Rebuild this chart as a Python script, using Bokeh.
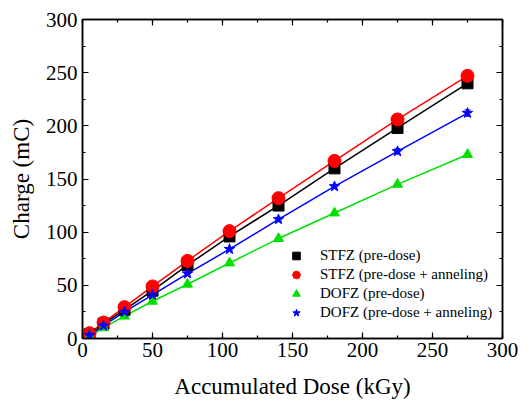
from bokeh.plotting import figure
from bokeh.models import (LinearAxis, SingleIntervalTicker, Legend, LegendItem, Range1d,
                          Whisker, ColumnDataSource, CustomLabelingPolicy)
from bokeh.embed import file_html
from bokeh.resources import INLINE

dose = [5, 15, 30, 50, 75, 105, 140, 180, 225, 275]
stfz = [4, 14, 27, 45, 69, 96, 125, 160, 198, 240]
stfz_ann = [5, 15, 29.5, 49, 73, 101, 132, 167, 206, 247]
dofz = [2, 10, 21, 35, 51, 71, 94, 118, 145, 173]
dofz_ann = [3, 12, 25, 41, 61, 84, 112, 143, 176, 212]
dofz_ann_err = [1, 1, 1, 1, 1.5, 1.5, 2, 2, 2.5, 3]

FONT = "'Liberation Serif', 'Times New Roman', serif"

p = figure(width=523, height=401, output_backend="svg", toolbar_location=None,
           x_range=Range1d(0, 300), y_range=Range1d(0, 300),
           min_border_left=82, min_border_right=11, min_border_top=19, min_border_bottom=63)
p.xgrid.visible = False
p.ygrid.visible = False
p.outline_line_color = "black"
p.outline_line_width = 1.5

for ax, lab in ((p.xaxis[0], "Accumulated Dose (kGy)"), (p.yaxis[0], "Charge (mC)")):
    ax.ticker = SingleIntervalTicker(interval=50, num_minor_ticks=2)
    ax.axis_label = lab
    ax.axis_label_text_font = FONT
    ax.axis_label_text_font_style = "normal"
    ax.axis_label_text_font_size = "23px"
    ax.axis_label_text_color = "black"
    ax.major_label_text_font = FONT
    ax.major_label_text_font_size = "21px"
    ax.major_label_text_color = "black"
    ax.major_tick_in = 6
    ax.major_tick_out = 0
    ax.minor_tick_in = 3
    ax.minor_tick_out = 0
    ax.axis_line_width = 1.5
    ax.major_tick_line_width = 1.2
    ax.minor_tick_line_width = 1.2
p.xaxis.major_label_standoff = 4
p.yaxis.major_label_standoff = 5
p.xaxis.axis_label_standoff = 14
p.yaxis.axis_label_standoff = 9

hide = CustomLabelingPolicy(code="for (const i of indices) indices.unset(i); return indices")
for side in ("above", "right"):
    ax = LinearAxis(ticker=SingleIntervalTicker(interval=50, num_minor_ticks=2),
                    major_label_policy=hide, major_tick_in=6, major_tick_out=0,
                    minor_tick_in=3, minor_tick_out=0, axis_line_width=1.5,
                    major_tick_line_width=1.2, minor_tick_line_width=1.2,
                    major_label_standoff=0)
    p.add_layout(ax, side)

p.line(dose, stfz, line_color="black", line_width=1.5)
p.line(dose, stfz_ann, line_color="red", line_width=1.5)
p.line(dose, dofz, line_color="#00e000", line_width=1.5)
p.line(dose, dofz_ann, line_color="blue", line_width=1.5)

src = ColumnDataSource(dict(x=dose, y=dofz_ann,
                            lo=[a - e for a, e in zip(dofz_ann, dofz_ann_err)],
                            hi=[a + e for a, e in zip(dofz_ann, dofz_ann_err)]))
w = Whisker(source=src, base="x", lower="lo", upper="hi", line_color="blue", line_width=1.2)
w.upper_head.line_color = "blue"
w.lower_head.line_color = "blue"
w.upper_head.size = 6
w.lower_head.size = 6
p.add_layout(w)

m1 = p.scatter(dose, stfz, marker="square", size=11, color="black")
m2 = p.scatter(dose, stfz_ann, marker="circle", size=13, color="red")
m3 = p.scatter(dose, dofz, marker="triangle", size=10, color="#00e000")
m4 = p.scatter(dose, dofz_ann, marker="star", size=11, color="blue")

legend = Legend(items=[
    LegendItem(label="STFZ (pre-dose)", renderers=[m1]),
    LegendItem(label="STFZ (pre-dose + anneling)", renderers=[m2]),
    LegendItem(label="DOFZ (pre-dose)", renderers=[m3]),
    LegendItem(label="DOFZ (pre-dose + anneling)", renderers=[m4]),
], location=(203, 16), border_line_color=None, background_fill_alpha=0,
    label_text_font=FONT, label_text_font_size="15px", label_text_color="black", spacing=0,
    label_height=19, glyph_height=19, glyph_width=22, label_standoff=13, padding=4, margin=0)
p.add_layout(legend, "center")

open("out.html", "w").write(file_html(p, INLINE))
